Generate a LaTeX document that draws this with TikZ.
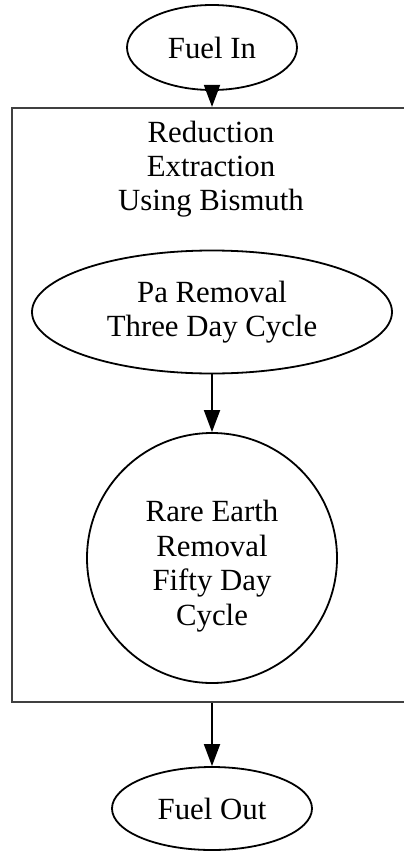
\documentclass[tikz,border=0pt]{standalone}
\usepackage{fontspec}
\setmainfont{Liberation Serif}
\usetikzlibrary{shapes.geometric,arrows.meta}
\begin{document}
\begin{tikzpicture}[x=1pt,y=-1pt,
  lbl/.style={font=\fontsize{30.8}{34}\selectfont, align=center, inner sep=0pt},
  oval/.style={lbl, draw, ellipse, line width=1.8pt},
  ring/.style={lbl, draw, circle, line width=1.8pt},
  group/.style={draw=black!75, line width=2.2pt, inner sep=0pt},
  flow/.style={line width=1.8pt, -{Triangle[length=22pt,width=16pt]}}]
\useasboundingbox (0,0) rectangle (404,851);
\clip (0,0) rectangle (404,851);
% outer cluster
\node[group, minimum width=418pt, minimum height=594pt] (cl) at (221,405) {};
\node[lbl] (title) at (211,169) {Reduction\\Extraction\\Using Bismuth};
% nodes
\node[oval, minimum width=170pt, minimum height=85pt] (fin) at (212,47.5) {Fuel In};
\node[oval, minimum width=360pt, minimum height=123pt] (pa) at (212,312) {Pa Removal\\Three Day Cycle};
\node[ring, minimum size=250pt, font=\fontsize{30.8}{34.5}\selectfont] (re) at (212,558) {\rule{0pt}{38pt}Rare Earth\\Removal\\Fifty Day\\Cycle};
\node[oval, minimum width=200pt, minimum height=83pt] (fout) at (212,808.5) {Fuel Out};
% connectors
\draw[flow] (fin.south) -- (fin.south |- cl.north);
\draw[flow] (pa.south) -- (re.north);
\draw[flow] (fout.north |- cl.south) -- (fout.north);
\end{tikzpicture}
\end{document}
